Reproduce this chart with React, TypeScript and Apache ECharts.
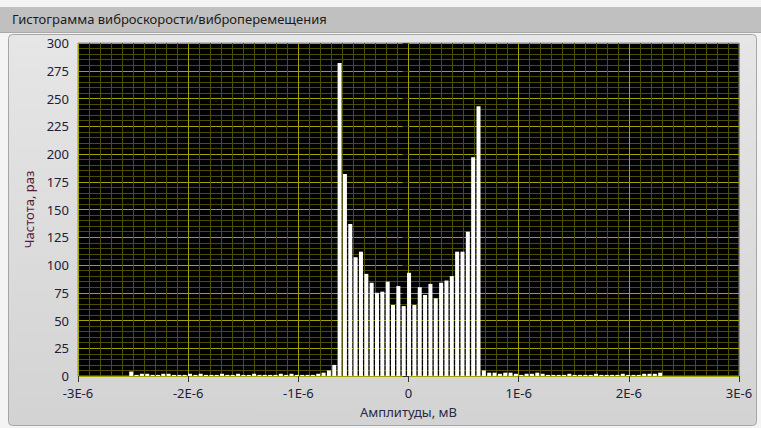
import React, { useEffect, useRef } from "react";
import * as echarts from "echarts";

// Histogram bins: first bin centre and bin width (volts-like units, 1E-6 scale)
const binStart = -2.517e-6;
const binWidth = 0.0485e-6;

// Counts per bin (100 bins)
const counts: number[] = [
  4, 1, 2, 2, 1, 1, 2, 2, 1, 1, 1, 2, 1, 2, 1, 1, 1, 2, 1, 1, 2, 1, 1, 2, 1,
  1, 1, 1, 2, 1, 2, 1, 1, 1, 1, 2, 3, 5, 10,
  282, 182, 137, 107, 112, 92, 84, 75, 76, 85, 64, 81, 63, 93, 64, 80, 73, 83,
  70, 84, 86, 90, 112, 112, 130, 197, 243,
  5, 3, 3, 2, 3, 3, 2, 1, 2, 2, 3, 2, 1, 1, 1, 1, 2, 1, 1, 1, 1, 2, 1, 1, 1,
  1, 2, 1, 1, 1, 2, 2, 2, 3,
];

const xMin = -3e-6;
const xMax = 3e-6;
const xInterval = 1e-6;
const yMin = 0;
const yMax = 300;
const yInterval = 25;

const titleText = "Гистограмма виброскорости/виброперемещения";
const xName = "Амплитуды, мВ";
const yName = "Частота, раз";

const FONT = "'Noto Sans', 'Open Sans', sans-serif";

export default function App() {
  const ref = useRef<HTMLDivElement>(null);

  useEffect(() => {
    if (!ref.current) return;
    const chart = echarts.init(ref.current, undefined, { renderer: "svg" });
    const data = counts.map((c, i) => [binStart + i * binWidth, c]);

    chart.setOption({
      animation: false,
      backgroundColor: "#f4f4f4",
      graphic: [
        {
          type: "rect",
          z: -10,
          silent: true,
          shape: { x: 0, y: 7, width: 761, height: 26 },
          style: { fill: "#c0c0c0" },
        },
        {
          type: "rect",
          z: -10,
          silent: true,
          shape: { x: 0, y: 32, width: 761, height: 1 },
          style: { fill: "#a9a9a9" },
        },
        {
          type: "rect",
          z: -9,
          silent: true,
          shape: { x: 8.5, y: 34.5, width: 748, height: 391, r: 4 },
          style: {
            fill: new echarts.graphic.LinearGradient(0, 0, 0, 1, [
              { offset: 0, color: "#e6e6e6" },
              { offset: 1, color: "#d3d3d3" },
            ]),
            stroke: "#a6a6a6",
            lineWidth: 1,
          },
        },
      ],
      title: {
        text: titleText,
        left: 12,
        top: 12,
        padding: 0,
        textStyle: {
          fontFamily: FONT,
          fontSize: 13,
          fontWeight: "normal",
          color: "#1b1b1b",
        },
      },
      grid: {
        left: 78,
        top: 43,
        width: 661,
        height: 333,
        show: true,
        backgroundColor: "#000000",
        borderColor: "#8a8a8a",
        borderWidth: 1,
      },
      xAxis: {
        type: "value",
        min: xMin,
        max: xMax,
        interval: xInterval,
        name: xName,
        nameLocation: "middle",
        nameGap: 29,
        nameTextStyle: { fontFamily: FONT, fontSize: 13, color: "#2a2a44" },
        axisLine: { show: false },
        axisTick: { show: true, length: 6, lineStyle: { color: "#333" } },
        axisLabel: {
          margin: 10,
          fontFamily: FONT,
          fontSize: 13,
          color: "#20203a",
          formatter: (v: number) => {
            const n = Math.round(v / xInterval);
            return n === 0 ? "0" : `${n}E-6`;
          },
        },
        splitLine: { show: true, lineStyle: { color: "#a3a300", width: 1 } },
        minorTick: { show: false, splitNumber: 10 },
        minorSplitLine: { show: true, lineStyle: { color: "#4e4e00", width: 1 } },
      },
      yAxis: {
        type: "value",
        min: yMin,
        max: yMax,
        interval: yInterval,
        name: yName,
        nameLocation: "middle",
        nameGap: 39,
        nameTextStyle: { fontFamily: FONT, fontSize: 13, color: "#5a1838" },
        axisLine: { show: false },
        axisTick: { show: true, length: 6, lineStyle: { color: "#333" } },
        axisLabel: {
          margin: 9,
          fontFamily: FONT,
          fontSize: 13,
          color: "#20203a",
        },
        splitLine: { show: true, lineStyle: { color: "#a3a300", width: 1 } },
        minorTick: { show: false, splitNumber: 5 },
        minorSplitLine: { show: true, lineStyle: { color: "#4e4e00", width: 1 } },
      },
      series: [
        {
          type: "bar",
          data,
          barWidth: 4,
          itemStyle: { color: "#ffffff" },
          z: 3,
        },
      ],
    });

    return () => chart.dispose();
  }, []);

  return (
    <div
      ref={ref}
      style={{ position: "fixed", left: 0, top: 0, width: 761, height: 428 }}
    />
  );
}
